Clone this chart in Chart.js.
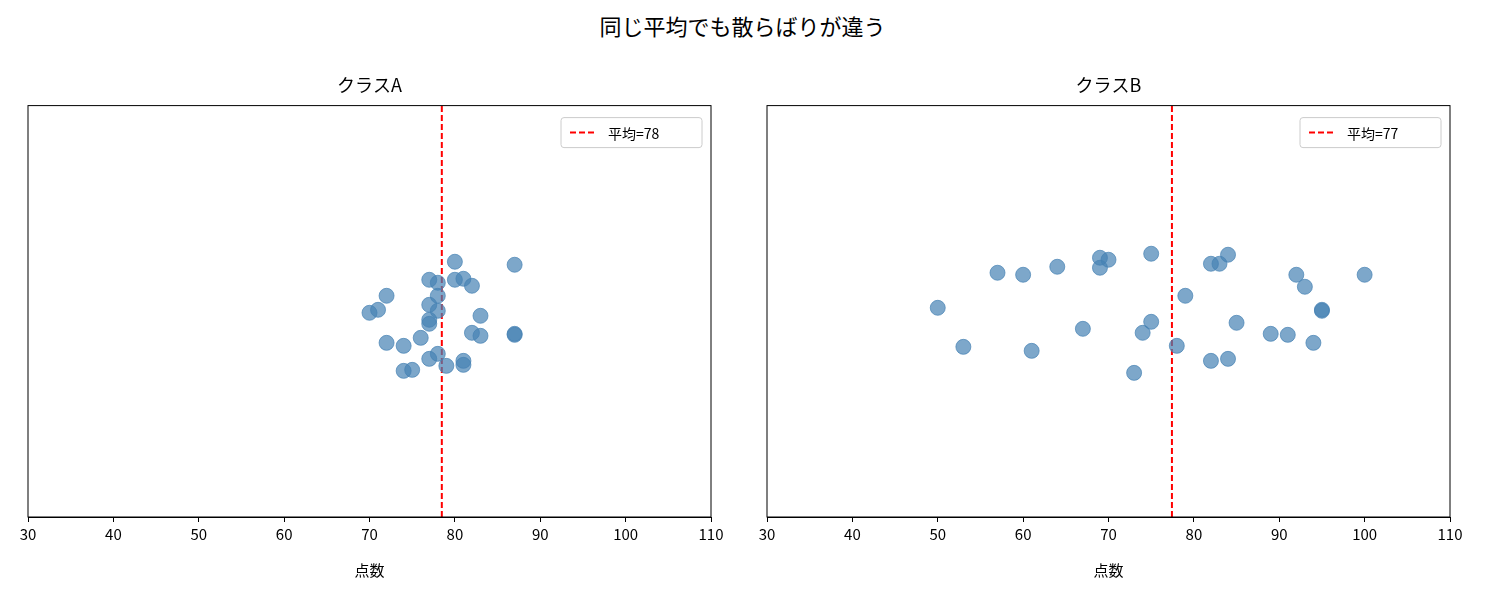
<!DOCTYPE html>
<html>
<head>
<meta charset="utf-8">
<script src="https://cdn.jsdelivr.net/npm/chart.js@4.4.0/dist/chart.umd.min.js"></script>
<style>
  body { margin: 0; background: #fff; font-family: "Noto Sans CJK JP", sans-serif; }
  #wrap { position: relative; width: 1485px; height: 596px; }
  #title { position: absolute; top: 9px; left: 0; width: 1485px; text-align: center; font-size: 22px; }
  .panel { position: absolute; top: 0; height: 596px; }
</style>
</head>
<body>
<div id="wrap">
  <div id="title">同じ平均でも散らばりが違う</div>
  <div class="panel" style="left:0;width:730px"><canvas id="chartA"></canvas></div>
  <div class="panel" style="left:739px;width:730px"><canvas id="chartB"></canvas></div>
</div>
<script>
const xTicks = [30, 40, 50, 60, 70, 80, 90, 100, 110];

const scoresA = [80, 87, 77, 78, 80, 81, 82, 72, 78, 77, 71, 70, 78, 83, 77, 77, 82, 83, 87, 87, 76, 72, 74, 78, 77, 81, 81, 79, 74, 75];
const jitterA = [255, 252, 237, 234, 237, 238, 231, 221, 221, 212, 207, 204, 206, 201, 197, 193, 184, 181, 183, 182, 179, 174, 171, 163, 158, 156, 152, 151, 146, 147];
const meanA = 78.47;

const scoresB = [50, 53, 57, 60, 61, 64, 67, 69, 69, 70, 73, 74, 75, 75, 78, 79, 82, 82, 83, 84, 84, 85, 89, 91, 92, 93, 94, 95, 95, 100];
const jitterB = [209, 170, 244, 242, 166, 250, 188, 259, 249, 257, 144, 184, 263, 195, 171, 221, 253, 156, 253, 262, 158, 194, 183, 182, 242, 230, 174, 206, 207, 242];
const meanB = 77.43;

const FONT = "'Noto Sans CJK JP', sans-serif";

// frame and legend drawn on top of the plot area
const framePlugin = {
  id: "frame",
  afterDraw(chart, args, opts) {
    const { ctx, chartArea: a } = chart;
    ctx.save();
    ctx.strokeStyle = "#000";
    ctx.lineWidth = 1;
    ctx.strokeRect(a.left, a.top, a.right - a.left, a.bottom - a.top);
    // legend box
    const w = 141, h = 30;
    const bx = a.right - 9 - w, by = a.top + 12;
    ctx.fillStyle = "rgba(255,255,255,0.8)";
    ctx.strokeStyle = "#ccc";
    ctx.beginPath();
    ctx.roundRect(bx, by, w, h, 3);
    ctx.fill();
    ctx.stroke();
    ctx.strokeStyle = "red";
    ctx.lineWidth = 2;
    ctx.setLineDash([6, 3]);
    ctx.beginPath();
    ctx.moveTo(bx + 9, by + h / 2);
    ctx.lineTo(bx + 35, by + h / 2);
    ctx.stroke();
    ctx.setLineDash([]);
    ctx.fillStyle = "#000";
    ctx.font = "14px " + FONT;
    ctx.textBaseline = "middle";
    ctx.fillText(opts.label, bx + 47, by + h / 2 + 1);
    ctx.restore();
  }
};

function makeChart(id, title, scores, jitter, mean, label) {
  const pts = scores.map((x, i) => ({ x: x, y: jitter[i] }));
  return new Chart(document.getElementById(id), {
    type: "scatter",
    data: {
      datasets: [
        {
          data: pts,
          pointRadius: 7.5,
          pointHoverRadius: 7.5,
          backgroundColor: "rgba(70,130,180,0.7)",
          borderColor: "rgba(70,130,180,0.7)",
          borderWidth: 1
        },
        {
          type: "line",
          data: [{ x: mean, y: 0 }, { x: mean, y: 411 }],
          borderColor: "red",
          borderWidth: 2,
          borderDash: [6, 3],
          pointRadius: 0
        }
      ]
    },
    options: {
      responsive: false,
      animation: false,
      devicePixelRatio: 1,
      layout: { padding: { left: 28, right: 19, top: 0, bottom: 0 } },
      plugins: {
        legend: { display: false },
        tooltip: { enabled: false },
        title: {
          display: true,
          text: title,
          color: "#000",
          font: { family: FONT, size: 18, weight: "normal" },
          padding: { top: 74, bottom: 10 }
        },
        frame: { label: label }
      },
      scales: {
        x: {
          type: "linear",
          min: 30,
          max: 110,
          afterBuildTicks: (s) => { s.ticks = xTicks.map((v) => ({ value: v })); },
          afterFit: (s) => { s.height = 79; },
          grid: { drawOnChartArea: false, drawTicks: true, tickLength: 5, color: "#000" },
          border: { color: "#000" },
          ticks: { color: "#000", font: { family: FONT, size: 15 }, padding: 3, maxRotation: 0 },
          title: { display: true, text: "点数", color: "#000", font: { family: FONT, size: 15 }, padding: { top: 2, bottom: 17 } }
        },
        y: { display: false, min: 0, max: 411 }
      }
    },
    plugins: [framePlugin]
  });
}

for (const id of ["chartA", "chartB"]) {
  const c = document.getElementById(id);
  c.width = 730; c.height = 596;
}
makeChart("chartA", "クラスA", scoresA, jitterA, meanA, "平均=78");
makeChart("chartB", "クラスB", scoresB, jitterB, meanB, "平均=77");
</script>
</body>
</html>
